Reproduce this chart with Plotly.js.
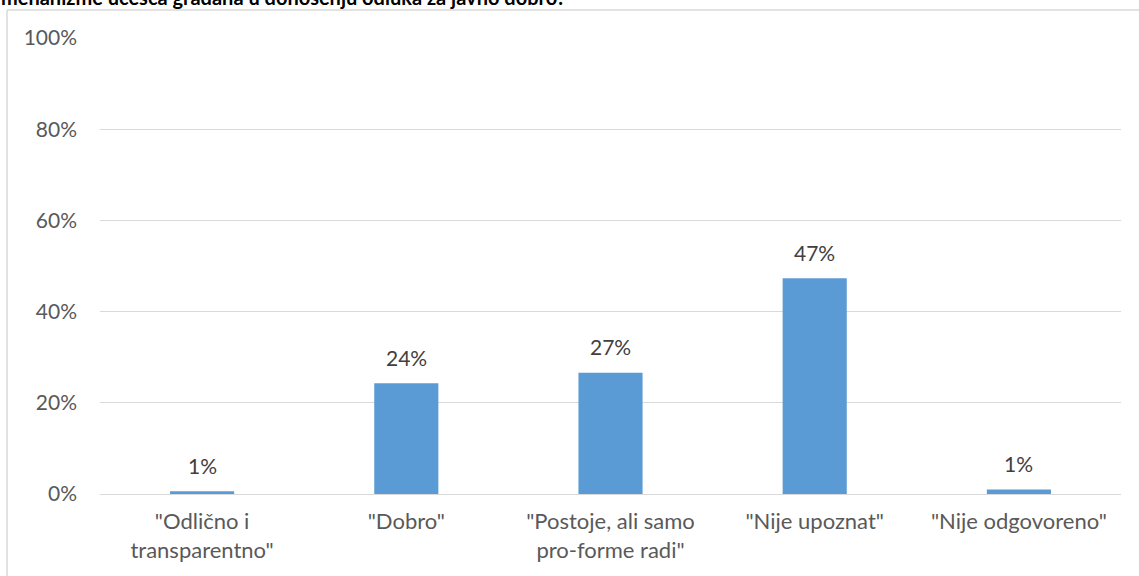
<!DOCTYPE html>
<html>
<head>
<meta charset="utf-8">
<script src="https://cdn.plot.ly/plotly-3.0.1.min.js"></script>
<style>
  html, body { margin: 0; padding: 0; background: #ffffff; }
  #chart { width: 1139px; height: 576px; }
</style>
</head>
<body>
<div id="chart"></div>
<script>
const titleText = 'mehanizme učešća građana u donošenju odluka za javno dobro?';
const categories = ['"Odlično i<br>transparentno"', '"Dobro"', '"Postoje, ali samo<br>pro-forme radi"', '"Nije upoznat"', '"Nije odgovoreno"'];
const shares = [0.006, 0.243, 0.266, 0.473, 0.010];
const valueLabels = ['1%', '24%', '27%', '47%', '1%'];
const yTickValues = [0, 0.2, 0.4, 0.6, 0.8, 1.0];

const W = 1139, H = 576;
const margin = {l: 100, r: 18, t: 38, b: 82};
const pw = W - margin.l - margin.r;
const ph = H - margin.t - margin.b;
const px = v => (v - margin.l) / pw;
const py = v => 1 - (v - margin.t) / ph;

const FONT = 'Lato, "Open Sans", sans-serif';

const trace = {
  type: 'bar',
  x: categories,
  y: shares,
  marker: {color: '#5B9BD5'},
  hoverinfo: 'none'
};

const labelAnnotations = categories.map((c, i) => ({
  x: c, y: shares[i], xref: 'x', yref: 'y',
  text: valueLabels[i],
  showarrow: false,
  xanchor: 'center', yanchor: 'middle',
  yshift: 26,
  font: {family: FONT, size: 21, color: '#404040'}
}));

const layout = {
  width: W, height: H,
  margin: margin,
  paper_bgcolor: '#ffffff',
  plot_bgcolor: '#ffffff',
  showlegend: false,
  bargap: 0.686,
  font: {family: FONT, size: 21, color: '#595959'},
  xaxis: {
    type: 'category',
    showgrid: false,
    showline: false,
    zeroline: false,
    ticks: '',
    ticklabelstandoff: 12,
    tickfont: {family: FONT, size: 22, color: '#595959'},
    fixedrange: true
  },
  yaxis: {
    range: [0, 1],
    tickvals: yTickValues,
    tickformat: '.0%',
    showgrid: true,
    gridcolor: '#d9d9d9',
    gridwidth: 1,
    zeroline: true,
    zerolinecolor: '#d9d9d9',
    zerolinewidth: 1,
    showline: false,
    ticks: '',
    ticklabelstandoff: 22,
    tickfont: {family: FONT, size: 21, color: '#595959'},
    fixedrange: true
  },
  shapes: [
    {type: 'line', xref: 'paper', yref: 'paper', x0: px(7), x1: px(7), y0: py(10), y1: py(600), line: {color: '#d9d9d9', width: 1.5}, layer: 'below'},
    {type: 'line', xref: 'paper', yref: 'paper', x0: px(7), x1: px(1160), y0: py(10), y1: py(10), line: {color: '#d9d9d9', width: 1.5}, layer: 'below'}
  ],
  annotations: [
    {text: '<b>' + titleText + '</b>', xref: 'paper', yref: 'paper', x: px(-1), y: py(11), xanchor: 'left', yanchor: 'bottom', showarrow: false, font: {family: FONT, size: 20, color: '#000000'}}
  ].concat(labelAnnotations)
};

Plotly.newPlot('chart', [trace], layout, {displayModeBar: false, staticPlot: true});
</script>
</body>
</html>
